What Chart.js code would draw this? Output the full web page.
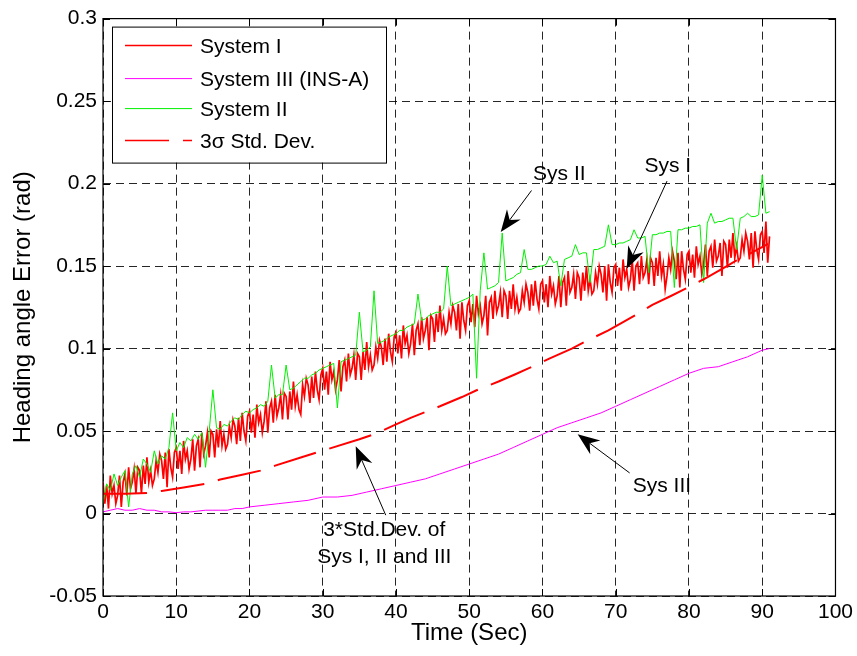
<!DOCTYPE html>
<html>
<head>
<meta charset="utf-8">
<script src="https://cdn.jsdelivr.net/npm/chart.js@4"></script>
<style>
  html, body { margin: 0; padding: 0; background: #fff; }
  #wrap { width: 857px; height: 656px; }
</style>
</head>
<body>
<div id="wrap"><canvas id="c" width="857" height="656"></canvas></div>
<script>
// Heading angle error of the three navigation systems over the run.

// System I: sampled every 0.25 s, from t = 0 s
const sys1Step = 0.25;
const sys1Values = [
  0.019,0.006,0.017,0.003, 0.023,0.012,0.017,0.006, 0.011,0.023,0.004,0.019, 0.024,0.011,0.028,0.015,
  0.019,0.027,0.012,0.028, 0.026,0.012,0.029,0.018, 0.034,0.019,0.026,0.017, 0.021,0.032,0.025,0.036,
  0.032,0.021,0.037,0.016, 0.039,0.028,0.022,0.037, 0.040,0.027,0.038,0.024, 0.044,0.033,0.038,0.027,
  0.033,0.045,0.026,0.041, 0.045,0.028,0.049,0.036, 0.041,0.049,0.034,0.050, 0.048,0.034,0.051,0.040,
  0.056,0.041,0.048,0.039, 0.042,0.053,0.046,0.057, 0.053,0.042,0.058,0.044, 0.061,0.050,0.044,0.059,
  0.062,0.049,0.060,0.046, 0.066,0.055,0.060,0.049, 0.056,0.068,0.049,0.064, 0.068,0.055,0.072,0.059,
  0.064,0.072,0.057,0.073, 0.071,0.057,0.074,0.063, 0.080,0.065,0.072,0.063, 0.060,0.078,0.071,0.082,
  0.078,0.067,0.083,0.070, 0.086,0.075,0.069,0.084, 0.088,0.075,0.086,0.072, 0.092,0.081,0.086,0.075,
  0.081,0.093,0.074,0.089, 0.093,0.080,0.097,0.084, 0.088,0.096,0.081,0.097, 0.095,0.081,0.098,0.087,
  0.104,0.089,0.096,0.087, 0.090,0.101,0.094,0.105, 0.101,0.090,0.106,0.092, 0.109,0.098,0.092,0.107,
  0.110,0.097,0.108,0.094, 0.114,0.103,0.108,0.097, 0.103,0.115,0.096,0.111, 0.115,0.102,0.119,0.106,
  0.111,0.119,0.099,0.120, 0.118,0.104,0.121,0.110, 0.126,0.111,0.118,0.109, 0.111,0.122,0.115,0.126,
  0.122,0.111,0.127,0.106, 0.128,0.117,0.111,0.126, 0.129,0.116,0.127,0.113, 0.132,0.121,0.126,0.115,
  0.120,0.132,0.108,0.128, 0.131,0.118,0.135,0.122, 0.126,0.134,0.119,0.135, 0.132,0.118,0.135,0.124,
  0.139,0.124,0.131,0.122, 0.124,0.135,0.128,0.139, 0.134,0.123,0.139,0.126, 0.141,0.130,0.124,0.139,
  0.141,0.128,0.139,0.125, 0.144,0.133,0.138,0.127, 0.132,0.144,0.125,0.140, 0.143,0.126,0.147,0.134,
  0.137,0.145,0.130,0.146, 0.143,0.129,0.146,0.135, 0.150,0.135,0.142,0.133, 0.135,0.146,0.139,0.150,
  0.145,0.134,0.150,0.129, 0.151,0.140,0.134,0.149, 0.151,0.138,0.149,0.135, 0.154,0.143,0.148,0.137,
  0.142,0.154,0.135,0.150, 0.152,0.139,0.156,0.143, 0.146,0.154,0.139,0.155, 0.152,0.138,0.155,0.144,
  0.159,0.144,0.151,0.136, 0.144,0.155,0.148,0.159, 0.153,0.142,0.158,0.137, 0.159,0.148,0.142,0.157,
  0.159,0.146,0.157,0.143, 0.162,0.151,0.156,0.145, 0.151,0.163,0.144,0.159, 0.162,0.149,0.166,0.153,
  0.156,0.164,0.144,0.165, 0.163,0.149,0.166,0.155, 0.170,0.155,0.162,0.153, 0.155,0.166,0.159,0.170,
  0.165,0.154,0.170,0.149, 0.171,0.160,0.154,0.169, 0.171,0.158,0.177,0.152,
  0.168
];

// System II: sampled every 0.5 s, from t = 0 s
const sys2Step = 0.5;
const sys2Values = [
  0.006,0.018, 0.014,0.024, 0.017,0.022, 0.026,0.004, 0.024,0.029, 0.022,0.033, 0.030,0.025, 0.038,0.030,
  0.035,0.033, 0.040,0.061, 0.038,0.043, 0.040,0.046, 0.044,0.048, 0.045,0.049, 0.028,0.050, 0.075,0.052,
  0.051,0.054, 0.053,0.056, 0.058,0.057, 0.060,0.062, 0.061,0.063, 0.064,0.066, 0.065,0.068, 0.090,0.070,
  0.072,0.072, 0.090,0.075, 0.076,0.078, 0.080,0.082, 0.082,0.084, 0.085,0.087, 0.088,0.089, 0.090,0.091,
  0.064,0.092, 0.093,0.094, 0.095,0.096, 0.122,0.098, 0.099,0.101, 0.135,0.103, 0.104,0.105, 0.107,0.108,
  0.109,0.111, 0.111,0.113, 0.114,0.115, 0.133,0.117, 0.118,0.120, 0.121,0.122, 0.122,0.124, 0.150,0.126,
  0.127,0.128, 0.129,0.130, 0.131,0.133, 0.082,0.135, 0.158,0.136, 0.137,0.138, 0.140,0.170, 0.141,0.142,
  0.143,0.145, 0.146,0.160, 0.148,0.148, 0.149,0.150, 0.150,0.151, 0.156,0.152, 0.153,0.138, 0.154,0.155,
  0.156,0.163, 0.157,0.158, 0.158,0.140, 0.160,0.160, 0.161,0.162, 0.175,0.163, 0.163,0.164, 0.164,0.165,
  0.166,0.172, 0.167,0.167, 0.168,0.146, 0.169,0.169, 0.170,0.170, 0.171,0.171, 0.137,0.172, 0.172,0.173,
  0.173,0.174, 0.174,0.175, 0.140,0.176, 0.182,0.176, 0.177,0.177, 0.178,0.179, 0.179,0.160, 0.179,0.180,
  0.182,0.180, 0.180,0.181, 0.205,0.182,
  0.183
];

// System III (INS-A): time (s) and error (rad)
const sys3Time  = [0, 1, 2, 3, 4, 5, 6, 7, 8, 9, 10, 11, 12, 13, 14, 15, 16, 17, 18, 19, 20, 22, 24, 26, 28, 30,
                   32, 34, 36, 38, 40, 42, 44, 46, 48, 50, 52, 54, 56, 58, 60, 62, 64, 66, 68, 70, 72, 74, 76,
                   78, 80, 82, 84, 86, 88, 90, 91];
const sys3Values = [0.001, 0.002, 0.003, 0.002, 0.002, 0.003, 0.002, 0.002, 0.001, 0.001, 0.0005, 0.001, 0.001,
                    0.0015, 0.002, 0.002, 0.002, 0.002, 0.003, 0.003, 0.004, 0.005, 0.006, 0.007, 0.008, 0.010,
                    0.010, 0.011, 0.013, 0.015, 0.017, 0.019, 0.021, 0.024, 0.027, 0.030, 0.033, 0.036, 0.040,
                    0.044, 0.048, 0.052, 0.055, 0.058, 0.061, 0.065, 0.069, 0.073, 0.077, 0.081, 0.085, 0.088,
                    0.089, 0.092, 0.095, 0.099, 0.100];

// 3-sigma standard deviation bound: time (s) and value (rad)
const sigmaTime  = [0, 3, 6, 8, 11, 14, 16, 19, 21.5, 23.5, 27, 31, 35, 37, 40, 42, 46, 49, 51, 54, 56.3, 58,
                    61, 64, 66, 69, 71, 73, 75, 77.6, 79.4, 82, 84.4, 86.5, 88.5, 90.8];
const sigmaValues = [0.012, 0.012, 0.0125, 0.0137, 0.0158, 0.018, 0.0206, 0.0235, 0.026, 0.029, 0.034, 0.0395,
                     0.045, 0.048, 0.054, 0.058, 0.065, 0.0706, 0.0747, 0.080, 0.0844, 0.0878, 0.094, 0.100,
                     0.1046, 0.111, 0.116, 0.121, 0.1265, 0.132, 0.136, 0.142, 0.148, 0.1534, 0.158, 0.1635];

// Axis ranges and ticks
const xTicks = [0, 10, 20, 30, 40, 50, 60, 70, 80, 90, 100];
const yTicks = [-0.05, 0, 0.05, 0.1, 0.15, 0.2, 0.25, 0.3];

// Legend entries
const legendLabels = ['System I', 'System III (INS-A)', 'System II', '3\u03C3 Std. Dev.'];

// Callout notes: text lines anchored in data units, arrows from tail to tip
const notes = [
  { lines: ['Sys II'], at: [62.3, 0.2055], tail: [58.5, 0.1958], tip: [54.3, 0.1706] },
  { lines: ['Sys I'], at: [77.1, 0.2104], tail: [77.0, 0.2015], tip: [71.5, 0.1484] },
  { lines: ['Sys III'], at: [76.3, 0.0165], tail: [71.9, 0.0246], tip: [64.8, 0.048] },
  { lines: ['3*Std.Dev. of', 'Sys I, II and III'], at: [38.4, -0.0101], tail: [38.6, -0.001], tip: [34.5, 0.0408] }
];

const FONT = '"Liberation Sans", Arial, Helvetica, sans-serif';
const RED = '#ff0000', GREEN = '#00f000', MAGENTA = '#ff00ff';

const series = (vals, step) => vals.map((v, i) => ({ x: i * step, y: v }));
const pairs = (xs, ys) => xs.map((t, i) => ({ x: t, y: ys[i] }));

function arrow(ctx, x1, y1, x2, y2) {
  const ang = Math.atan2(y2 - y1, x2 - x1);
  const L = 22, W = 8.5, N = 15;
  const ca = Math.cos(ang), sa = Math.sin(ang);
  ctx.beginPath();
  ctx.moveTo(x1, y1);
  ctx.lineTo(x2 - ca * N, y2 - sa * N);
  ctx.stroke();
  ctx.beginPath();
  ctx.moveTo(x2, y2);
  ctx.lineTo(x2 - ca * L - sa * W, y2 - sa * L + ca * W);
  ctx.lineTo(x2 - ca * N, y2 - sa * N);
  ctx.lineTo(x2 - ca * L + sa * W, y2 - sa * L - ca * W);
  ctx.closePath();
  ctx.fill();
}

const decorations = {
  id: 'decorations',
  afterDatasetsDraw(chart) {
    const { ctx, chartArea: a, scales: { x, y } } = chart;
    ctx.save();

    // axes box with inward tick marks on all sides
    ctx.strokeStyle = '#000';
    ctx.lineWidth = 1.2;
    ctx.setLineDash([]);
    ctx.strokeRect(a.left, a.top, a.right - a.left, a.bottom - a.top);
    ctx.lineWidth = 1;
    ctx.beginPath();
    xTicks.forEach(v => {
      const px = Math.round(x.getPixelForValue(v)) + 0.5;
      ctx.moveTo(px, a.bottom); ctx.lineTo(px, a.bottom - 7);
      ctx.moveTo(px, a.top); ctx.lineTo(px, a.top + 7);
    });
    yTicks.forEach(v => {
      const py = Math.round(y.getPixelForValue(v)) + 0.5;
      ctx.moveTo(a.left, py); ctx.lineTo(a.left + 7, py);
      ctx.moveTo(a.right, py); ctx.lineTo(a.right - 7, py);
    });
    ctx.stroke();

    // callouts
    ctx.fillStyle = '#000';
    ctx.font = '21px ' + FONT;
    ctx.textAlign = 'center';
    ctx.textBaseline = 'middle';
    notes.forEach(n => {
      const cx = x.getPixelForValue(n.at[0]);
      const cy = y.getPixelForValue(n.at[1]);
      n.lines.forEach((t, i) => ctx.fillText(t, cx, cy + i * 27));
      ctx.lineWidth = 1;
      arrow(ctx, x.getPixelForValue(n.tail[0]), y.getPixelForValue(n.tail[1]),
                 x.getPixelForValue(n.tip[0]), y.getPixelForValue(n.tip[1]));
    });

    // legend
    const lx = a.left + 9, ly = a.top + 8, lw = 274, lh = 136;
    ctx.fillStyle = '#fff';
    ctx.fillRect(lx, ly, lw, lh);
    ctx.strokeStyle = '#000';
    ctx.lineWidth = 1;
    ctx.strokeRect(lx + 0.5, ly + 0.5, lw, lh);
    const ds = chart.data.datasets;
    const rowY = [19, 52, 82, 114];
    legendLabels.forEach((lab, i) => {
      const d = ds[i];
      const yy = ly + rowY[i];
      ctx.strokeStyle = d.borderColor;
      ctx.lineWidth = Math.min(d.borderWidth, 1.5);
      ctx.setLineDash(d.borderDash || []);
      ctx.beginPath();
      ctx.moveTo(lx + 13, yy); ctx.lineTo(lx + 80, yy);
      ctx.stroke();
      ctx.setLineDash([]);
      ctx.fillStyle = '#000';
      ctx.textAlign = 'left';
      ctx.fillText(lab, lx + 88, yy + 2);
    });
    ctx.restore();
  }
};

new Chart(document.getElementById('c'), {
  type: 'line',
  data: {
    datasets: [
      { label: legendLabels[0], data: series(sys1Values, sys1Step), borderColor: RED, borderWidth: 1.7, order: 3 },
      { label: legendLabels[1], data: pairs(sys3Time, sys3Values), borderColor: MAGENTA, borderWidth: 1, order: 2 },
      { label: legendLabels[2], data: series(sys2Values, sys2Step), borderColor: GREEN, borderWidth: 1, order: 1 },
      { label: legendLabels[3], data: pairs(sigmaTime, sigmaValues), borderColor: RED, borderWidth: 2,
        borderDash: [44, 14], order: 0 }
    ]
  },
  options: {
    responsive: false,
    animation: false,
    events: [],
    layout: { padding: { top: 18, right: 21, left: 0, bottom: 0 } },
    elements: { point: { radius: 0 }, line: { tension: 0, fill: false } },
    plugins: { legend: { display: false }, tooltip: { enabled: false } },
    scales: {
      x: {
        type: 'linear', min: 0, max: 100,
        afterBuildTicks: s => { s.ticks = xTicks.map(v => ({ value: v })); },
        afterFit: s => { s.height = 60; },
        grid: { color: 'rgba(0,0,0,0.85)', lineWidth: 1, drawTicks: false },
        border: { display: false, dash: [8, 5] },
        ticks: { color: '#000', font: { family: FONT, size: 21 }, padding: 4, maxRotation: 0,
                 callback: v => String(v) },
        title: { display: true, text: 'Time (Sec)', color: '#000',
                 font: { family: FONT, size: 24 }, padding: { top: 0, bottom: 8 } }
      },
      y: {
        type: 'linear', min: -0.05, max: 0.3,
        afterBuildTicks: s => { s.ticks = yTicks.map(v => ({ value: v })); },
        afterFit: s => { s.width = 103; },
        grid: { color: 'rgba(0,0,0,0.85)', lineWidth: 1, drawTicks: false },
        border: { display: false, dash: [8, 5] },
        ticks: { color: '#000', font: { family: FONT, size: 21 }, padding: 6,
                 callback: v => String(+v.toFixed(2)) },
        title: { display: true, text: 'Heading angle Error (rad)', color: '#000',
                 font: { family: FONT, size: 24 }, padding: { top: 9, bottom: 0 } }
      }
    }
  },
  plugins: [decorations]
});
</script>
</body>
</html>
